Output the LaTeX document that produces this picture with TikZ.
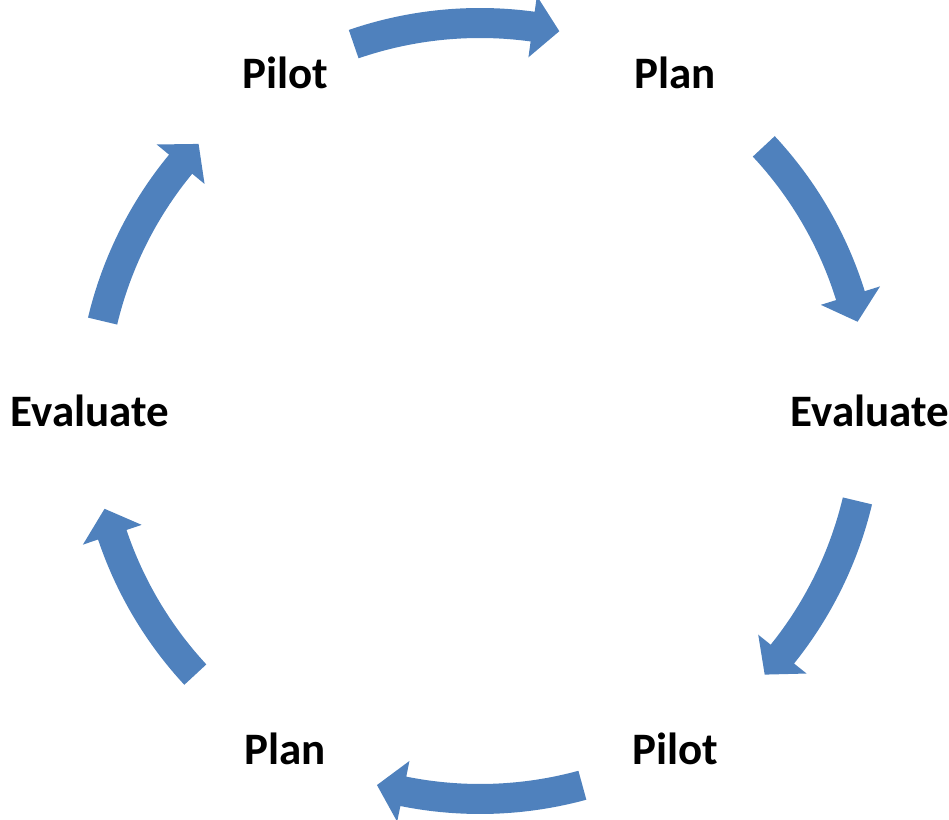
\documentclass[tikz,border=0pt]{standalone}
\usepackage{fontspec}
\setmainfont{Carlito}
\definecolor{cycblue}{HTML}{4F81BD}

\begin{document}
\begin{tikzpicture}[x=1pt,y=1pt,
    stage/.style={font=\bfseries\fontsize{45}{49}\selectfont, inner sep=0pt},
    cyc/.style={fill=cycblue}]
        \useasboundingbox (0,0) rectangle (949,819);
        \coordinate (c) at (480,408);
        \begin{scope}[shift={(c)}]
        % stages
        \node[stage] (pilot1) at (120:390) {Pilot};
        \node[stage] (plan1)  at (60:390)  {Plan};
        \node[stage] (eval1)  at (0:390)   {Evaluate};
        \node[stage] (pilot2) at (300:390) {Pilot};
        \node[stage] (plan2)  at (240:390) {Plan};
        \node[stage] (eval2)  at (180:390) {Evaluate};
        % arrows
        \fill[cyc] (109:403) arc[start angle=109,end angle=82.2,radius=403] -- (82.2:419) -- (78.2:388) -- (82.2:357) -- (82.2:373) arc[start angle=82.2,end angle=109,radius=373] -- cycle;
        \fill[cyc] (43:403) arc[start angle=43,end angle=17.3,radius=403] -- (17.3:419) -- (13.3:388) -- (17.3:357) -- (17.3:373) arc[start angle=17.3,end angle=43,radius=373] -- cycle;
        \fill[cyc] (-13.4:403) arc[start angle=-13.4,end angle=-38.8,radius=403] -- (-38.8:419) -- (-42.8:388) -- (-38.8:357) -- (-38.8:373) arc[start angle=-38.8,end angle=-13.4,radius=373] -- cycle;
        \fill[cyc] (-74.7:403) arc[start angle=-74.7,end angle=-101.4,radius=403] -- (-101.4:419) -- (-105.4:388) -- (-101.4:357) -- (-101.4:373) arc[start angle=-101.4,end angle=-74.7,radius=373] -- cycle;
        \fill[cyc] (222.8:403) arc[start angle=222.8,end angle=198.6,radius=403] -- (198.6:419) -- (194.6:388) -- (198.6:357) -- (198.6:373) arc[start angle=198.6,end angle=222.8,radius=373] -- cycle;
        \fill[cyc] (166.6:403) arc[start angle=166.6,end angle=140.5,radius=403] -- (140.5:419) -- (136.5:388) -- (140.5:357) -- (140.5:373) arc[start angle=140.5,end angle=166.6,radius=373] -- cycle;
        \end{scope}
    \end{tikzpicture}
\end{document}
